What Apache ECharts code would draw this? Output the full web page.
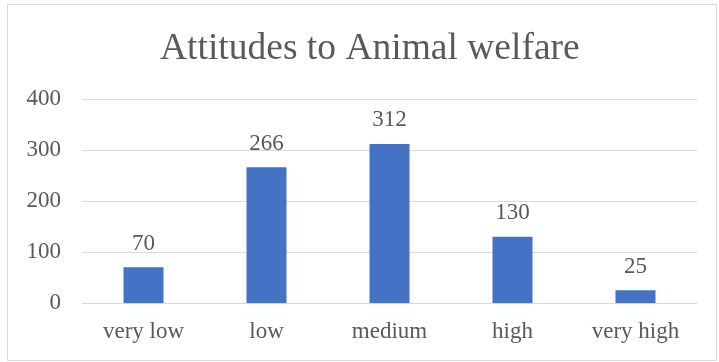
<!DOCTYPE html>
<html>
<head>
<meta charset="utf-8">
<script src="https://cdn.jsdelivr.net/npm/echarts@6/dist/echarts.min.js"></script>
<style>
  html, body { margin: 0; padding: 0; background: #fff; }
  #chart { width: 719px; height: 362px; }
</style>
</head>
<body>
<div id="chart"></div>
<script>
// categories and counts
var categories = ['very low', 'low', 'medium', 'high', 'very high'];
var counts = [70, 266, 312, 130, 25];
var yTicks = [0, 100, 200, 300, 400];

var textColor = '#595959';
var fontFamily = '"Liberation Serif", "Times New Roman", serif';

var chart = echarts.init(document.getElementById('chart'), null, { renderer: 'canvas' });

var option = {
  animation: false,
  backgroundColor: '#fff',
  graphic: [{
    type: 'rect',
    shape: { x: 7.5, y: 4.5, width: 709, height: 356 },
    style: { fill: 'none', stroke: '#d9d9d9', lineWidth: 1 },
    silent: true
  }],
  title: {
    text: 'Attitudes to Animal welfare',
    left: 160,
    top: 30,
    padding: 0,
    textStyle: {
      color: textColor,
      fontFamily: fontFamily,
      fontSize: 37.5,
      fontWeight: 'normal'
    }
  },
  grid: {
    left: 82,
    right: 22,
    top: 99,
    bottom: 59,
    containLabel: false
  },
  xAxis: {
    type: 'category',
    data: categories,
    axisLine: { show: true, lineStyle: { color: '#d9d9d9', width: 1 } },
    axisTick: { show: false },
    axisLabel: {
      color: textColor,
      fontFamily: fontFamily,
      fontSize: 23,
      margin: 17
    }
  },
  yAxis: {
    type: 'value',
    min: yTicks[0],
    max: yTicks[yTicks.length - 1],
    interval: 100,
    axisLine: { show: false },
    axisTick: { show: false },
    splitLine: { lineStyle: { color: '#d9d9d9', width: 1 } },
    axisLabel: {
      color: textColor,
      fontFamily: fontFamily,
      fontSize: 23,
      margin: 21
    }
  },
  series: [{
    type: 'bar',
    data: counts,
    barWidth: 40,
    itemStyle: { color: '#4472c4' },
    label: {
      show: true,
      position: 'top',
      distance: 12,
      color: textColor,
      fontFamily: fontFamily,
      fontSize: 23
    }
  }]
};

chart.setOption(option);
</script>
</body>
</html>
